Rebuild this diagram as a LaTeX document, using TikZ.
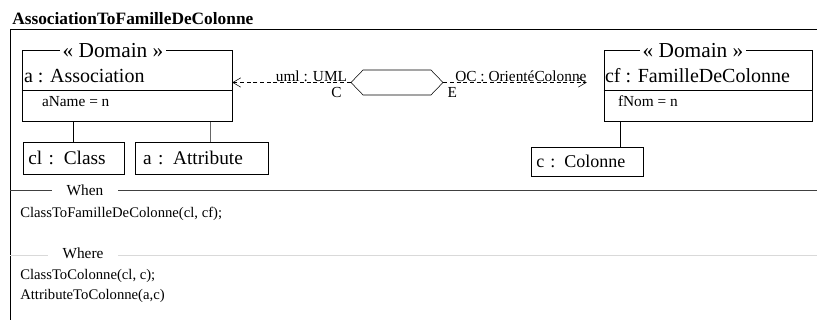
\documentclass[tikz,border=0pt]{standalone}
\usepackage{fontspec}
\setmainfont{Liberation Serif}
\usetikzlibrary{arrows.meta,shapes.symbols}

\tikzset{
  domain/.style={draw, inner sep=0pt, minimum width=#1, minimum height=53.25pt},
  stereo/.style={fill=white, inner xsep=2pt, inner ysep=0pt, font=\fontsize{16}{18}\selectfont},
  objname/.style={anchor=base west, inner sep=0pt, font=\fontsize{15}{17}\selectfont},
  slot/.style={anchor=base west, inner sep=0pt, font=\fontsize{11.5}{13}\selectfont},
  objbox/.style={draw, inner xsep=4pt, inner ysep=0pt, minimum height=24pt, text width=#1, align=left, font=\fontsize{14.5}{16}\selectfont},
  transfo/.style={draw, signal, signal to=west and east, signal pointer angle=92, minimum width=69pt, minimum height=18.75pt, inner sep=0pt},
  dep/.style={densely dashed, -{Straight Barb[length=6pt,width=7pt]}},
  deplabel/.style={inner sep=0.5pt, font=\fontsize{11.5}{13}\selectfont},
  seplabel/.style={fill=white, inner xsep=11pt, inner ysep=1pt, font=\fontsize{11.5}{13}\selectfont},
  body/.style={anchor=base west, inner sep=0pt, font=\fontsize{11}{13}\selectfont}
}

\begin{document}
\begin{tikzpicture}[x=0.75pt, y=-0.75pt]
\useasboundingbox (0,0) rectangle (817,320);

% frame and title
\node[anchor=base west, inner sep=0pt, font=\bfseries\fontsize{13}{15}\selectfont] (title) at (12,25) {AssociationToFamilleDeColonne};
\draw (830,29) -- (10,29) -- (10,330);

% left domain
\node[domain=157.5pt] (assoc) at (127,86) {};
\node[stereo] (assocstereo) at ([xshift=-10.5pt]assoc.north) {« Domain »};
\node[objname] (assocname) at ([shift={(2,32)}]assoc.north west) {a : Association};
\draw ([shift={(0,40)}]assoc.north west) -- ([shift={(0,40)}]assoc.north east);
\node[slot] (assocslot) at ([shift={(20,56)}]assoc.north west) {aName = n};

% right domain
\node[domain=156pt] (fam) at (708,86) {};
\node[stereo] (famstereo) at ([xshift=-11.25pt]fam.north) {« Domain »};
\node[objname] (famname) at ([shift={(1,32)}]fam.north west) {cf : FamilleDeColonne};
\draw ([shift={(0,40)}]fam.north west) -- ([shift={(0,40)}]fam.north east);
\node[slot] (famslot) at ([shift={(14,56)}]fam.north west) {fNom = n};

% transformation
\node[transfo] (trans) at (397,82.5) {};
\draw[dep] (trans.west) -- (trans.west -| assoc.east)
  node[deplabel, pos=0, anchor=south east, xshift=-2pt] (umllabel) {uml : UML}
  node[deplabel, pos=0, anchor=north east, xshift=-6pt, yshift=-3pt] (cside) {C};
\draw[dep, shorten >=12.75pt] (trans.east) -- (trans.east -| fam.west)
  node[deplabel, midway, anchor=south, xshift=-2pt] (oclabel) {OC : OrientéColonne}
  node[deplabel, pos=0, anchor=north west, xshift=2.5pt, yshift=-3pt] (eside) {E};

% objects
\node[objbox=67.75pt] (cl) at (73.5,158) {cl : Class};
\node[objbox=91.75pt, inner xsep=6pt, text width=87.75pt] (attrb) at (201.5,158) {a : Attribute};
\node[objbox=76pt, minimum height=21.75pt, font=\fontsize{13.5}{15}\selectfont] (col) at (587,161.5) {c : Colonne};
\draw (assoc.south -| cl.north) -- (cl.north);
\draw[black!60] ([xshift=6.375pt]attrb.north) -- ([xshift=6.375pt]attrb.north |- assoc.south);
\draw ([xshift=12.75pt]fam.south west) -- ([xshift=12.75pt]fam.south west |- col.north);

% when / where
\draw[black!75] (10,190) -- (830,190);
\node[seplabel] (when) at (85,190) {When};
\node[body] (whencall) at (20,218) {ClassToFamilleDeColonne(cl, cf);};
\draw[black!15] (10,255) -- (830,255);
\node[seplabel] (where) at (83,253) {Where};
\node[body] (wherecall1) at (20,280) {ClassToColonne(cl, c);};
\node[body] (wherecall2) at (20,300) {AttributeToColonne(a,c)};
\end{tikzpicture}
\end{document}
